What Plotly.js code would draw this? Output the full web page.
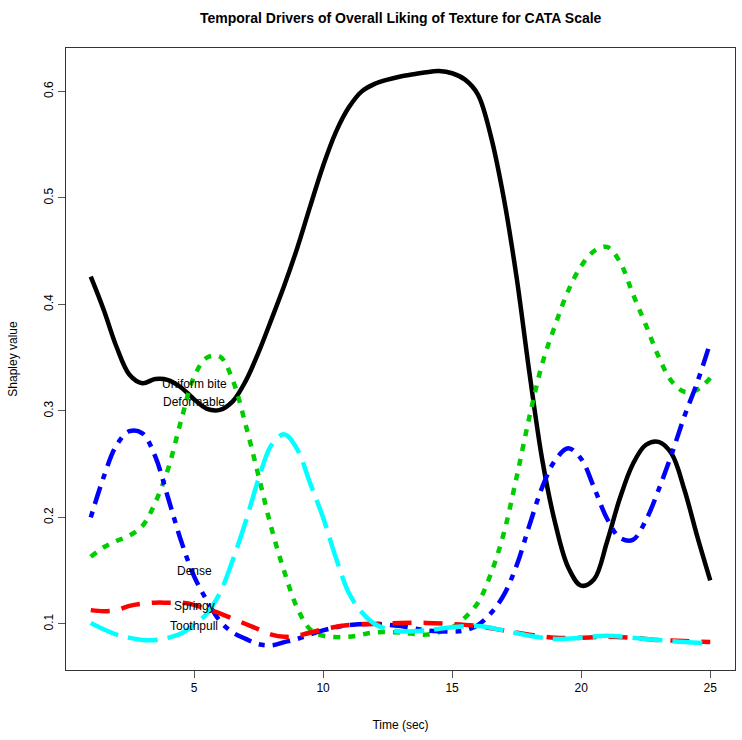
<!DOCTYPE html>
<html>
<head>
<meta charset="utf-8">
<script src="https://cdn.plot.ly/plotly-3.0.1.min.js"></script>
<style>html,body{margin:0;padding:0;background:#fff;}#chart{width:742px;height:740px;}</style>
</head>
<body>
<div id="chart"></div>
<script>
// Shapley values per attribute over time (sec)
const timeBlack = [1,1.5,2,2.5,3,3.5,4,4.5,5,5.5,6,6.5,7,7.5,8,8.5,9,9.5,10,10.5,11,11.5,12,12.5,13,13.5,14,14.5,15,15.5,16,16.5,17,17.5,18,18.5,19,19.5,20,20.5,21,21.5,22,22.5,23,23.5,24,24.5,25];
const black = [0.426,0.395,0.360,0.334,0.326,0.330,0.329,0.322,0.311,0.302,0.301,0.309,0.328,0.355,0.386,0.418,0.453,0.492,0.530,0.562,0.585,0.600,0.607,0.611,0.614,0.616,0.618,0.619,0.617,0.611,0.597,0.558,0.500,0.425,0.335,0.253,0.194,0.153,0.136,0.142,0.177,0.218,0.250,0.268,0.271,0.260,0.226,0.182,0.141];

const timeGreen = [1,1.5,2,2.5,3,3.5,4,4.5,5,5.5,6,6.5,7,7.5,8,8.5,9,9.5,10,11,12,13,14,15,15.5,16,16.5,17,17.5,18,18.5,19,19.5,20,20.5,21,21.5,22,22.5,23,23.5,24,24.5,25];
const green = [0.163,0.172,0.178,0.183,0.192,0.214,0.246,0.291,0.332,0.350,0.351,0.329,0.287,0.239,0.190,0.149,0.115,0.095,0.089,0.088,0.092,0.092,0.090,0.097,0.106,0.120,0.147,0.185,0.238,0.295,0.345,0.381,0.413,0.436,0.450,0.454,0.440,0.410,0.381,0.351,0.328,0.318,0.320,0.331];

const timeBlue = [1,1.5,2,2.5,3,3.5,4,4.5,5,5.5,6,6.5,7,7.5,8,8.5,9,10,11,12,13,14,15,15.5,16,16.5,17,17.5,18,18.5,19,19.5,20,20.5,21,21.5,22,22.5,23,23.5,24,24.5,25];
const blue = [0.200,0.238,0.268,0.281,0.279,0.257,0.218,0.178,0.145,0.122,0.103,0.092,0.086,0.081,0.080,0.083,0.086,0.094,0.099,0.100,0.098,0.094,0.093,0.094,0.099,0.110,0.127,0.155,0.193,0.229,0.254,0.265,0.255,0.228,0.199,0.181,0.179,0.197,0.226,0.259,0.295,0.327,0.364];

const timeRed = [1,1.5,2,2.5,3,3.5,4,4.5,5,5.5,6,6.5,7,7.5,8,8.5,9,10,11,12,13,14,15,16,17,18,19,20,21,22,23,24,25];
const red = [0.113,0.112,0.113,0.117,0.119,0.120,0.120,0.120,0.118,0.114,0.110,0.105,0.100,0.095,0.090,0.088,0.089,0.095,0.099,0.100,0.101,0.101,0.100,0.098,0.094,0.090,0.087,0.087,0.088,0.087,0.085,0.084,0.083];

const timeCyan = [1,1.5,2,2.5,3,3.5,4,4.5,5,5.5,6,6.5,7,7.5,8,8.5,9,9.5,10,10.5,11,11.5,12,12.5,13,14,15,16,17,18,19,20,21,22,23,24,25];
const cyan = [0.101,0.095,0.090,0.087,0.085,0.085,0.087,0.091,0.099,0.110,0.129,0.160,0.196,0.236,0.268,0.278,0.264,0.232,0.200,0.162,0.129,0.111,0.100,0.095,0.093,0.094,0.097,0.098,0.094,0.089,0.086,0.087,0.089,0.087,0.085,0.083,0.082];

// Text labels
const labelNames = ["Uniform bite","Deformable","Dense","Springy","Toothpull"];
const labelX = [5,5,5,5,5];
const labelY = [0.325,0.308,0.150,0.117,0.098];

const W = 4.5;
const S = 1;
const traces = [
  {x: timeBlack, y: black, mode:'lines', line:{color:'#000000', width:W, shape:'spline', smoothing:S}},
  {x: timeGreen, y: green, mode:'lines', line:{color:'#00CD00', width:W, dash:'7px,8px', shape:'spline', smoothing:S}},
  {x: timeBlue, y: blue, mode:'lines', line:{color:'#0000FF', width:W, dash:'6px,8px,18px,8px', shape:'spline', smoothing:S}},
  {x: timeRed, y: red, mode:'lines', line:{color:'#FF0000', width:W, dash:'19px,12px', shape:'spline', smoothing:S}},
  {x: timeCyan, y: cyan, mode:'lines', line:{color:'#00FFFF', width:W, dash:'30px,10px', shape:'spline', smoothing:S}}
];

const fam = 'Liberation Sans, Arial, sans-serif';
const annotations = labelNames.map((t,i)=>({x:labelX[i], y:labelY[i], xref:'x', yref:'y', text:t, showarrow:false, font:{family:fam, size:12, color:'#000'}}));

const axisFont = {family:fam, size:12, color:'#000'};
const layout = {
  width:742, height:740,
  margin:{l:66, r:7, t:48, b:70},
  paper_bgcolor:'#fff', plot_bgcolor:'#fff',
  showlegend:false,
  title:{text:'<b>Temporal Drivers of Overall Liking of Texture for CATA Scale</b>', font:{family:fam, size:14, color:'#000'}, x:0.54, xanchor:'center', y:0.976, yanchor:'middle'},
  xaxis:{range:[0.04,25.96], tickvals:[5,10,15,20,25], ticks:'outside', ticklen:7, tickcolor:'#555', showgrid:false, zeroline:false, showline:true, mirror:true, linecolor:'#333', linewidth:1, tickfont:axisFont, title:{text:'Time (sec)', font:axisFont, standoff:26}},
  yaxis:{range:[0.0568,0.6407], tickvals:[0.1,0.2,0.3,0.4,0.5,0.6], ticktext:['0.1','0.2','0.3','0.4','0.5','0.6'], tickangle:-90, ticks:'outside', ticklen:7, tickcolor:'#555', showgrid:false, zeroline:false, showline:true, mirror:true, linecolor:'#333', linewidth:1, tickfont:axisFont, title:{text:'Shapley value', font:axisFont, standoff:22}},
  annotations: annotations
};
Plotly.newPlot('chart', traces, layout, {displayModeBar:false, staticPlot:true});
</script>
</body>
</html>
